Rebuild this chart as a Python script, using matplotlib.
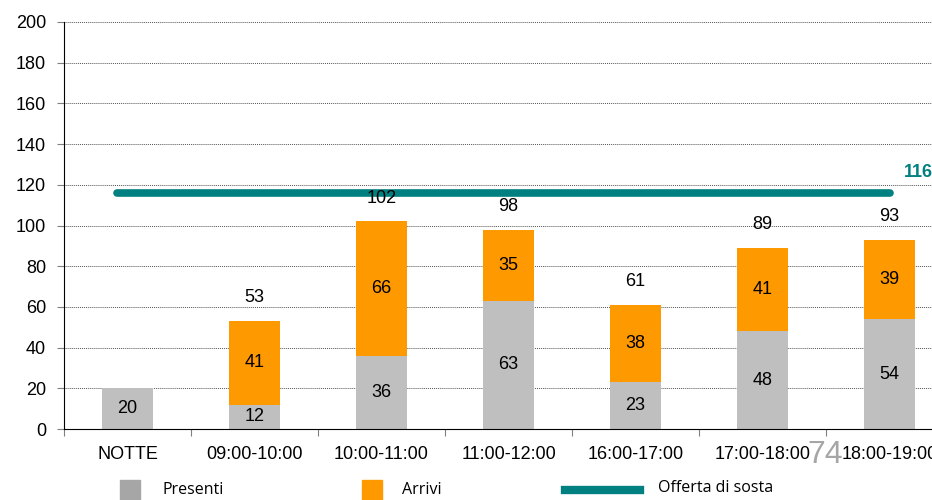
import matplotlib.pyplot as plt
from matplotlib.patches import Rectangle
from matplotlib.lines import Line2D

# dati
categorie = ["NOTTE", "09:00-10:00", "10:00-11:00", "11:00-12:00",
             "16:00-17:00", "17:00-18:00", "18:00-19:00"]
presenti = [20, 12, 36, 63, 23, 48, 54]
arrivi = [0, 41, 66, 35, 38, 41, 39]
offerta = 116

grigio = "#BFBFBF"
arancio = "#FF9900"
verde = "#008080"

plt.rcParams['font.family'] = ['Liberation Sans', 'DejaVu Sans']

fig = plt.figure(figsize=(9.32, 5), dpi=100)
# l'asse esce a destra della figura, come nell'originale
ax = fig.add_axes([64 / 932, 71 / 500, 889 / 932, 407 / 500])

x = list(range(len(categorie)))
totali = [p + a for p, a in zip(presenti, arrivi)]

ax.bar(x, presenti, width=0.4, color=grigio, zorder=2)
ax.bar(x, arrivi, width=0.4, bottom=presenti, color=arancio, zorder=2)

for i in x:
    ax.text(i, presenti[i] / 2, str(presenti[i]), ha="center", va="center", fontsize=13)
    if arrivi[i] > 0:
        ax.text(i, presenti[i] + arrivi[i] / 2, str(arrivi[i]), ha="center", va="center", fontsize=13)
        # il totale sta sopra la linea dell'offerta
        ax.text(i, totali[i] + 11.5, str(totali[i]), ha="center", va="center",
                fontsize=13, zorder=5)

# offerta di sosta
ax.plot([-0.08, 6.0], [offerta, offerta], color=verde, lw=5.5,
        solid_capstyle="round", zorder=3)
ax.text(6.11, offerta + 10, str(offerta), color=verde, fontsize=13,
        fontweight="bold", ha="left", va="center")

ax.set_xlim(-0.5, 6.5)
ax.set_ylim(0, 200)
ax.set_yticks(range(0, 201, 20))
ax.set_xticks([i - 0.5 for i in x])
ax.set_xticklabels([])
ax.set_xticks(x, minor=True)
ax.set_xticklabels(categorie, minor=True, fontsize=13)
ax.tick_params(axis="x", which="minor", length=0, pad=12)
ax.tick_params(axis="x", which="major", length=5, color="#808080")
ax.tick_params(axis="y", length=5, color="#808080", labelsize=13, pad=8)

ax.grid(axis="y", color="#555555", linestyle=(0, (1, 1)), lw=0.7, zorder=0)
for s in ["top", "right"]:
    ax.spines[s].set_visible(False)
ax.spines["left"].set_color("black")
ax.spines["bottom"].set_color("black")

# numero pagina
fig.text(825 / 932, 1 - 455 / 500, "74", color="#A6A6A6", fontsize=23,
         ha="center", va="center")

# legenda
fig.patches.append(Rectangle((120 / 932, 1 - 500 / 500), 20 / 932, 20 / 500,
                             transform=fig.transFigure, color="#A6A6A6"))
fig.text(163 / 932, 1 - 490 / 500, "Presenti", fontsize=11.5, va="center",
         family=["Open Sans", "DejaVu Sans"])
fig.patches.append(Rectangle((362 / 932, 1 - 500 / 500), 20 / 932, 20 / 500,
                             transform=fig.transFigure, color=arancio))
fig.text(402 / 932, 1 - 490 / 500, "Arrivi", fontsize=11.5, va="center",
         family=["Open Sans", "DejaVu Sans"])
fig.lines.append(Line2D([565 / 932, 640 / 932], [1 - 490 / 500, 1 - 490 / 500],
                        transform=fig.transFigure, color=verde, lw=6))
fig.text(658 / 932, 1 - 488 / 500, "Offerta di sosta", fontsize=11.5, va="center",
         family=["Open Sans", "DejaVu Sans"])

fig.savefig("out.png", dpi=100)
